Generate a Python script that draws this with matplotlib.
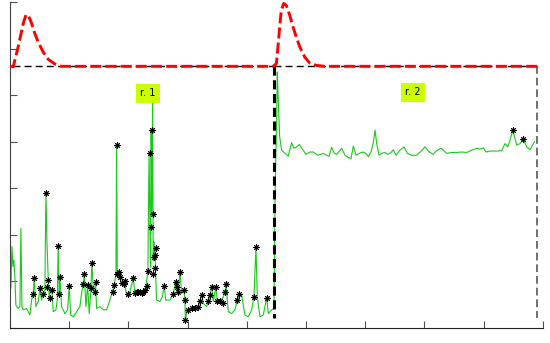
import matplotlib
matplotlib.use('Agg')
import matplotlib.pyplot as plt
import numpy as np

# red curve (two bumps on a flat baseline)
red_x = [0.0, 0.056, 0.14, 0.225, 0.27, 0.31, 0.367, 0.42, 0.478, 0.56, 0.647, 0.76, 0.87, 1.04,
         4.45, 4.50, 4.527, 4.556, 4.583, 4.623, 4.667, 4.725, 4.78, 4.836, 4.894, 4.978,
         5.063, 5.174, 5.316, 8.92]
red_y = [5.62, 5.61, 6.04, 6.54, 6.72, 6.72, 6.54, 6.33, 6.14, 5.93, 5.77, 5.67, 5.62, 5.62,
         5.62, 5.68, 6.04, 6.47, 6.82, 6.97, 6.93, 6.72, 6.47, 6.25, 6.04, 5.82,
         5.69, 5.64, 5.62, 5.62]

# green signal, region 1
g1_x = [0.017, 0.034, 0.051, 0.068, 0.084, 0.101, 0.141, 0.169, 0.186, 0.203, 0.225, 0.282,
        0.338, 0.366, 0.394, 0.411, 0.439, 0.479, 0.507, 0.535, 0.563, 0.591, 0.608, 0.625,
        0.648, 0.664, 0.687, 0.709, 0.732, 0.777, 0.80, 0.816, 0.833, 0.845, 0.873, 0.929,
        0.974, 1.002, 1.025, 1.07, 1.126, 1.182, 1.21, 1.239, 1.256, 1.284, 1.312, 1.34,
        1.368, 1.385, 1.408, 1.425, 1.447, 1.464, 1.52, 1.577, 1.633, 1.689, 1.729, 1.762,
        1.791, 1.802, 1.813, 1.836, 1.858, 1.886, 1.914, 1.943, 1.971, 1.999, 2.027, 2.083,
        2.111, 2.168, 2.224, 2.28, 2.30, 2.33, 2.35, 2.365, 2.375, 2.385, 2.395, 2.41, 2.42,
        2.43, 2.44, 2.45, 2.46, 2.477, 2.534, 2.573, 2.607, 2.63, 2.675, 2.703, 2.759, 2.798,
        2.815, 2.843, 2.872, 2.90, 2.939, 2.956, 2.962, 2.984, 3.012, 3.069, 3.125, 3.181,
        3.21, 3.238, 3.266, 3.322, 3.35, 3.378, 3.407, 3.435, 3.48, 3.502, 3.547, 3.604,
        3.632, 3.649, 3.688, 3.744, 3.80, 3.84, 3.874, 3.913, 3.97, 4.026, 4.082, 4.122,
        4.155, 4.178, 4.223, 4.279, 4.336, 4.364, 4.42, 4.46]
g1_y = [0.85, 1.75, 1.32, 1.46, 1.10, 0.49, 0.42, 0.46, 2.14, 0.46, 0.39, 0.42,
        0.28, 0.60, 0.74, 1.07, 0.46, 0.57, 0.85, 0.60, 0.74, 0.82, 2.91, 1.89,
        1.03, 0.67, 0.82, 0.85, 0.35, 0.39, 0.60, 1.77, 0.74, 1.09, 0.46, 0.31,
        0.39, 0.91, 0.28, 0.24, 0.35, 0.46, 0.74, 0.94, 1.15, 0.46, 0.92, 0.31,
        0.85, 1.39, 0.85, 0.77, 0.99, 0.42, 0.46, 0.39, 0.39, 0.60, 0.78, 0.92,
        1.17, 3.94, 1.17, 1.21, 1.10, 0.96, 0.91, 0.96, 0.67, 0.74, 0.77, 1.07,
        0.76, 0.78, 0.78, 0.82, 0.91, 1.23, 3.75, 2.17, 1.30, 4.25, 2.45, 4.95, 1.45,
        1.85, 1.62, 1.72, 1.20, 0.60, 0.57, 0.67, 0.91, 0.60, 0.60, 0.60, 0.74, 0.98,
        0.89, 0.78, 1.21, 0.74, 0.82, 0.60, 0.17, 0.31, 0.39, 0.42, 0.42, 0.46,
        0.57, 0.71, 0.53, 0.46, 0.57, 0.71, 0.89, 0.57, 0.89, 0.57, 0.57, 0.67,
        0.77, 0.94, 0.35, 0.31, 0.39, 0.60, 0.74, 0.71, 0.28, 0.24, 0.39, 0.67,
        1.75, 0.67, 0.24, 0.28, 0.65, 0.31, 0.39, 0.42]

# green signal, region 2
g2_x = [4.46, 4.476, 4.493, 4.505, 4.515, 4.527, 4.556, 4.589, 4.645, 4.70, 4.758, 4.797,
        4.842, 4.89, 4.95, 5.0, 5.07, 5.124, 5.197, 5.293, 5.35, 5.39, 5.433, 5.479, 5.518,
        5.602, 5.659, 5.715, 5.76, 5.80, 5.845, 5.912, 5.968, 6.025, 6.053, 6.098, 6.137,
        6.166, 6.194, 6.233, 6.278, 6.334, 6.374, 6.43, 6.475, 6.52, 6.588, 6.655, 6.712,
        6.785, 6.869, 6.953, 7.01, 7.083, 7.15, 7.207, 7.28, 7.32, 7.376, 7.46, 7.545,
        7.63, 7.714, 7.798, 7.883, 7.94, 7.995, 8.04, 8.108, 8.22, 8.305, 8.36, 8.406,
        8.446, 8.491, 8.559, 8.615, 8.671, 8.727, 8.784, 8.81, 8.857]
g2_y = [0.42, 2.75, 3.82, 4.5, 5.5, 5.04, 4.10, 3.82, 3.75, 3.69, 3.98, 3.86,
        3.89, 3.94, 3.82, 3.73, 3.78, 3.78, 3.71, 3.75, 3.71, 3.69, 3.88, 3.75, 3.73,
        3.86, 3.71, 3.66, 3.64, 3.91, 3.71, 3.76, 3.78, 3.73, 3.68, 3.78, 3.98,
        4.25, 3.96, 3.71, 3.75, 3.77, 3.73, 3.76, 3.83, 3.71, 3.82, 3.89, 3.75,
        3.71, 3.71, 3.81, 3.89, 3.78, 3.73, 3.81, 3.86, 3.82, 3.75, 3.77, 3.77,
        3.78, 3.77, 3.82, 3.86, 3.84, 3.87, 3.78, 3.80, 3.80, 3.81, 3.96, 3.89,
        4.03, 4.25, 3.93, 3.96, 4.05, 3.89, 3.83, 3.89, 4.0]

# detected peaks (asterisks)
pk_x = [0.411, 0.394, 0.507, 0.563, 0.608, 0.62, 0.648, 0.676, 0.704, 0.816, 0.833, 0.845,
        1.002, 1.239, 1.256, 1.312, 1.368, 1.385, 1.436, 1.447, 1.745, 1.762, 1.802, 1.813,
        1.836, 1.858, 1.886, 1.926, 1.943, 1.999, 2.083, 2.111, 2.14, 2.168, 2.196, 2.224,
        2.252, 2.28, 2.309, 2.337, 2.365, 2.376, 2.393, 2.41, 2.421, 2.432, 2.449, 2.466,
        2.449, 2.607, 2.759, 2.798, 2.815, 2.843, 2.872, 2.939, 2.956, 2.962, 3.012, 3.069,
        3.125, 3.181, 3.21, 3.238, 3.35, 3.378, 3.407, 3.48, 3.502, 3.547, 3.592, 3.632,
        3.649, 3.84, 3.874, 4.122, 4.155, 4.336, 8.491, 8.671]
pk_y = [1.07, 0.74, 0.85, 0.74, 2.91, 0.89, 1.03, 0.65, 0.82, 1.77, 0.74, 1.09,
        0.91, 0.94, 1.15, 0.92, 0.85, 1.39, 0.77, 0.99, 0.78, 0.92, 3.94, 1.17,
        1.21, 1.10, 0.96, 0.94, 1.01, 0.74, 1.07, 0.76, 0.78, 0.78, 0.78, 0.76,
        0.78, 0.82, 0.91, 1.23, 3.75, 2.17, 4.25, 2.44, 1.17, 1.53, 1.57, 1.71,
        1.29, 0.91, 0.74, 0.98, 0.89, 0.78, 1.21, 0.82, 0.60, 0.17, 0.39, 0.42,
        0.42, 0.46, 0.57, 0.71, 0.57, 0.71, 0.89, 0.89, 0.57, 0.57, 0.54, 0.77,
        0.94, 0.60, 0.74, 0.67, 1.75, 0.65, 4.25, 4.05]

baseline = 5.62
split_x = 4.46
end_x = 8.90
labels = ['r. 1', 'r. 2']
label_x = [2.33, 6.81]
label_y = [5.04, 5.06]

fig = plt.figure(figsize=(5.5, 3.43), dpi=100)
ax = fig.add_axes([0.018, 0.0437, 0.969, 0.9503])

#green signal
ax.plot(g1_x, g1_y, color='#19c819', lw=0.8, zorder=2)
ax.plot(g2_x, g2_y, color='#19c819', lw=0.8, zorder=2)

#peaks
ax.plot(pk_x, pk_y, linestyle='none', marker=(8, 2, 0), ms=4.5, mew=0.7,
        color='black', zorder=4)

#region boundaries
ax.plot([0.05, split_x], [baseline, baseline], color='black', lw=1.0, dashes=(5, 3), zorder=3)
ax.plot([split_x, end_x], [baseline, baseline], color='black', lw=1.0, dashes=(5, 3), zorder=3)
ax.plot([split_x, split_x], [baseline, 0.22], color='black', lw=2.2, dashes=(3, 1.5), zorder=3)
ax.plot([end_x, end_x], [baseline, 0.22], color='#707070', lw=1.4, dashes=(4, 2), zorder=3)

#red curve
ax.plot(red_x, red_y, color='#ff0000', lw=2.1, dashes=(3.8, 1.4), zorder=5)

#region labels
for lab, lx, ly in zip(labels, label_x, label_y):
    ax.text(lx, ly, lab, fontsize=7, ha='center', va='center', color='black', zorder=6,
            bbox=dict(boxstyle='square,pad=0.45', fc='#ccff00', ec='none'))

ax.set_xlim(0, 9)
ax.set_ylim(0, 7)
ax.set_xticks(range(0, 10))
ax.set_yticks(range(0, 8))
ax.set_xticklabels([])
ax.set_yticklabels([])
ax.tick_params(direction='in', length=5, width=0.8, color='#505050')
ax.spines['top'].set_visible(False)
ax.spines['right'].set_visible(False)
ax.spines['left'].set_color('#404040')
ax.spines['bottom'].set_color('#202020')

plt.savefig('out.png', dpi=100)
